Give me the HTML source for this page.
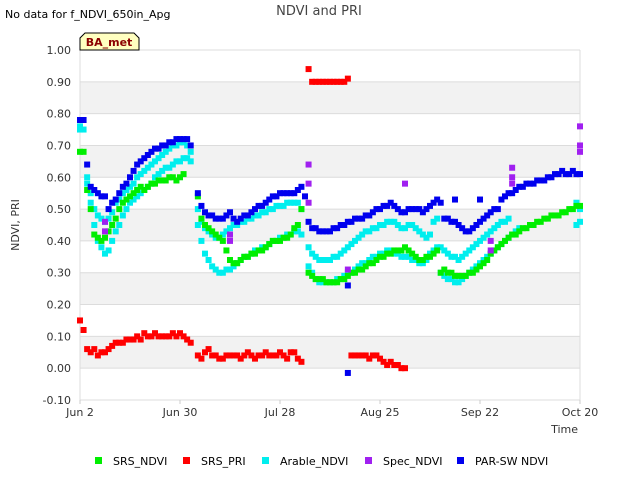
<!DOCTYPE html>
<html><head><meta charset="utf-8"><style>
body{margin:0;background:#fff;font-family:"Liberation Sans","DejaVu Sans",sans-serif}
svg text{font-family:"DejaVu Sans","Liberation Sans",sans-serif}
</style></head><body>
<svg id="chart" width="640" height="480" xmlns="http://www.w3.org/2000/svg">
<text x="5" y="18" font-size="11" fill="#000">No data for f_NDVI_650in_Apg</text>
<text x="319" y="15" font-size="13" fill="#444" text-anchor="middle">NDVI and PRI</text>
<g id="bands"></g>
<g id="grid"></g>
<g id="marks"></g>
<g id="axes"></g>
<g>
<path d="M80,50 L80,38 L85,33 L134,33 L139,38 L139,50 Z" fill="#ffffc0" stroke="#000" stroke-width="1"/>
<text x="109" y="46" font-size="11" font-weight="bold" fill="#8b0000" text-anchor="middle">BA_met</text>
</g>
<text transform="translate(19,225) rotate(-90)" font-size="11" fill="#333" text-anchor="middle">NDVI, PRI</text>
<text x="578" y="433" font-size="11" fill="#333" text-anchor="end">Time</text>
<g id="legend"></g>
</svg>
<script>
const yTicks=[-0.1,0,0.1,0.2,0.3,0.4,0.5,0.6,0.7,0.8,0.9,1.0];
const xTickDays=[0,28,56,84,112,140];
const xTickLabels=["Jun 2","Jun 30","Jul 28","Aug 25","Sep 22","Oct 20"];
const seriesNames=["SRS_NDVI","SRS_PRI","Arable_NDVI","Spec_NDVI","PAR-SW NDVI"];
const seriesColors=["#00ee00","#ff0000","#00eeee","#a020f0","#0000ee"];
const N=null;
const parNdvi=[0.78,0.78,0.64,0.57,0.56,0.55,0.54,0.54,0.50,0.52,
0.53,0.55,0.57,0.58,0.60,0.62,0.64,0.65,0.66,0.67,
0.68,0.69,0.69,0.70,0.70,0.71,0.71,0.72,0.72,0.72,
0.72,0.70,N,0.55,0.51,0.49,0.48,0.48,0.47,0.47,
0.47,0.48,0.49,0.47,0.46,0.47,0.48,0.48,0.49,0.50,
0.51,0.51,0.52,0.53,0.54,0.54,0.55,0.55,0.55,0.55,
0.55,0.56,0.57,0.54,0.46,0.44,0.44,0.43,0.43,0.43,
0.43,0.44,0.44,0.45,0.45,0.46,0.46,0.47,0.47,0.47,
0.48,0.48,0.49,0.50,0.50,0.51,0.51,0.52,0.51,0.50,
0.49,0.49,0.50,0.50,0.50,0.50,0.49,0.50,0.51,0.52,
0.53,0.52,0.47,0.47,0.46,0.46,0.45,0.44,0.43,0.43,
0.44,0.45,0.46,0.47,0.48,0.49,0.50,0.50,0.53,0.54,
0.55,0.55,0.56,0.57,0.57,0.58,0.58,0.58,0.59,0.59,
0.59,0.60,0.60,0.61,0.61,0.62,0.61,0.61,0.62,0.61,0.61];
const srsNdvi=[0.68,0.68,0.56,0.50,0.42,0.41,0.40,0.41,0.43,0.45,
0.47,0.50,0.52,0.53,0.54,0.55,0.56,0.57,0.56,0.57,
0.58,0.58,0.59,0.59,0.59,0.60,0.60,0.59,0.60,0.61,
N,N,N,0.54,0.47,0.45,0.44,0.43,0.42,0.41,
0.40,0.37,0.34,0.33,0.33,0.34,0.35,0.35,0.36,0.36,
0.37,0.37,0.38,0.39,0.40,0.40,0.40,0.41,0.41,0.42,
0.44,0.45,0.50,N,0.30,0.29,0.28,0.28,0.28,0.27,
0.27,0.27,0.27,0.28,0.28,0.29,0.30,0.30,0.31,0.31,
0.32,0.33,0.33,0.34,0.35,0.35,0.36,0.36,0.37,0.37,
0.37,0.38,0.37,0.36,0.35,0.34,0.34,0.35,0.35,0.36,
0.37,0.30,0.31,0.30,0.30,0.29,0.29,0.29,0.29,0.30,
0.30,0.31,0.32,0.33,0.34,0.36,0.37,0.38,0.39,0.40,
0.41,0.42,0.42,0.43,0.44,0.44,0.45,0.45,0.46,0.46,
0.47,0.47,0.48,0.48,0.48,0.49,0.49,0.50,0.50,0.51,0.51];
const srsPri=[0.15,0.12,0.06,0.05,0.06,0.04,0.05,0.05,0.06,0.07,
0.08,0.08,0.08,0.09,0.09,0.09,0.10,0.09,0.11,0.10,
0.10,0.11,0.10,0.10,0.10,0.10,0.11,0.10,0.11,0.10,
0.09,0.08,N,0.04,0.03,0.05,0.06,0.04,0.04,0.03,
0.03,0.04,0.04,0.04,0.04,0.03,0.04,0.05,0.04,0.03,
0.04,0.04,0.05,0.04,0.04,0.04,0.05,0.04,0.03,0.05,
0.05,0.03,0.02,N,0.94,0.90,0.90,0.90,0.90,0.90,
0.90,0.90,0.90,0.90,0.90,0.91,0.04,0.04,0.04,0.04,
0.04,0.03,0.04,0.04,0.03,0.02,0.01,0.02,0.01,0.01,
0.00,0.00];
const arableHi=[0.76,0.75,0.60,0.55,0.50,0.48,0.47,0.46,0.47,0.49,
0.52,0.53,0.55,0.56,0.57,0.58,0.60,0.61,0.62,0.63,
0.64,0.65,0.66,0.67,0.68,0.69,0.70,0.70,0.71,0.71,
0.70,0.68,N,0.50,0.46,0.44,0.43,0.42,0.41,0.41,
0.42,0.43,0.44,0.45,0.45,0.46,0.46,0.47,0.47,0.48,
0.48,0.49,0.49,0.50,0.50,0.51,0.51,0.51,0.52,0.52,
0.52,0.52,0.50,N,0.38,0.36,0.35,0.34,0.34,0.34,
0.34,0.35,0.35,0.36,0.37,0.38,0.39,0.40,0.41,0.42,
0.43,0.43,0.44,0.44,0.45,0.45,0.46,0.46,0.46,0.45,
0.44,0.44,0.45,0.45,0.44,0.43,0.42,0.41,0.42,0.46,
0.47,0.38,0.37,0.36,0.35,0.35,0.34,0.35,0.36,0.37,
0.38,0.39,0.40,0.41,0.42,0.43,0.44,0.45,0.46,0.46,
0.47,N,N,N,N,N,N,N,N,N,
N,N,N,N,N,N,N,N,N,0.52,0.50];
const arableLo=[0.75,N,0.58,0.52,0.45,0.40,0.38,0.36,0.37,0.40,
0.43,0.45,0.48,0.50,0.52,0.53,0.54,0.55,0.56,0.57,
0.58,0.60,0.61,0.62,0.63,0.63,0.64,0.65,0.65,0.66,
0.66,0.65,N,0.45,0.40,0.36,0.34,0.32,0.31,0.30,
0.30,0.31,0.31,0.32,0.33,0.34,0.35,0.35,0.36,0.37,
0.37,0.38,0.38,0.39,0.40,0.40,0.41,0.41,0.42,0.42,
0.43,0.43,0.42,N,0.32,0.30,0.28,0.27,0.27,0.27,
0.27,0.27,0.28,0.28,0.29,0.30,0.30,0.31,0.32,0.33,
0.33,0.34,0.35,0.35,0.36,0.36,0.37,0.37,0.36,0.36,
0.35,0.35,0.35,0.34,0.34,0.33,0.33,0.34,0.36,0.37,
0.38,0.30,0.29,0.28,0.28,0.27,0.27,0.28,0.29,0.30,
0.31,0.32,0.33,0.34,0.35,0.36,0.37,0.38,0.39,0.40,
0.41,0.42,0.43,0.44,N,N,N,N,N,N,
N,N,N,N,N,N,N,N,N,0.45,0.46];
const specDays=[7,7,42,42,64,64,64,75,91,115,115,121,121,121,140,140,140];
const specVals=[0.46,0.43,0.40,0.42,0.64,0.58,0.52,0.31,0.58,0.40,0.37,0.63,0.60,0.58,0.76,0.70,0.68];
const parOutDays=[75,75,105,112];
const parOutVals=[0.26,-0.015,0.53,0.53];

const NS="http://www.w3.org/2000/svg";
const X0=80,X1=580,Y0=50,Y1=400,DMAX=140,VMIN=-0.1,VMAX=1.0;
function xs(d){return X0+(X1-X0)*d/DMAX;}
function ys(v){return Y1-(Y1-Y0)*(v-VMIN)/(VMAX-VMIN);}
function mk(tag,attrs,parent){const e=document.createElementNS(NS,tag);for(const k in attrs)e.setAttribute(k,attrs[k]);parent.appendChild(e);return e;}
const bands=document.getElementById('bands'),grid=document.getElementById('grid'),marks=document.getElementById('marks'),axes=document.getElementById('axes'),legend=document.getElementById('legend');
for(let i=0;i<yTicks.length-1;i++){
  const lo=yTicks[i],hi=yTicks[i+1];
  const idx=Math.round(lo*10);
  if(idx>=0&&idx%2===0){
    const r=mk('rect',{x:X0,y:ys(hi),width:X1-X0,height:ys(lo)-ys(hi),fill:'#f2f2f2'},bands);
    
    
  }
}
yTicks.forEach(v=>{
  const l=mk('line',{x1:X0,x2:X1,y1:ys(v),y2:ys(v),stroke:'#dcdcdc','stroke-width':1},grid);
  
  
  const t=mk('text',{x:X0-9,y:ys(v)+4,'font-size':11,fill:'#333','text-anchor':'end'},axes);
  t.textContent=v.toFixed(2);
  
  
});
mk('line',{x1:X0,x2:X0,y1:Y0,y2:Y1,stroke:'#dcdcdc'},grid);
mk('line',{x1:X1,x2:X1,y1:Y0,y2:Y1,stroke:'#dcdcdc'},grid);
xTickDays.forEach((d,i)=>{
  const t=mk('text',{x:xs(d),y:416,'font-size':11,fill:'#333','text-anchor':'middle'},axes);
  t.textContent=xTickLabels[i];
  
  
  mk('line',{x1:xs(d),x2:xs(d),y1:Y1,y2:Y1+4,stroke:'#ccc'},axes);
});
function drawSeries(days,vals,color,name){
  for(let i=0;i<vals.length;i++){
    const v=vals[i]; if(v===null||v===undefined)continue;
    const d=days?days[i]:i;
    const r=mk('rect',{x:xs(d)-3,y:ys(v)-3,width:6,height:6,fill:color},marks);
    
    
  }
}
drawSeries(null,arableHi,seriesColors[2],'arable-ndvi-point');
drawSeries(null,arableLo,seriesColors[2],'arable-ndvi-point');
drawSeries(null,srsNdvi,seriesColors[0],'srs-ndvi-point');
drawSeries(null,srsPri,seriesColors[1],'srs-pri-point');
drawSeries(specDays,specVals,seriesColors[3],'spec-ndvi-point');
drawSeries(null,parNdvi,seriesColors[4],'par-sw-ndvi-point');
drawSeries(parOutDays,parOutVals,seriesColors[4],'par-sw-ndvi-point');
const legX=[95,183,262,365,457];
seriesNames.forEach((n,i)=>{
  const g=mk('g',{},legend);
  
  
  mk('rect',{x:legX[i],y:457,width:7,height:7,fill:seriesColors[i]},g);
  const t=mk('text',{x:legX[i]+18,y:465,'font-size':11,fill:'#000'},g);
  t.textContent=n;
});
</script>
</body></html>
